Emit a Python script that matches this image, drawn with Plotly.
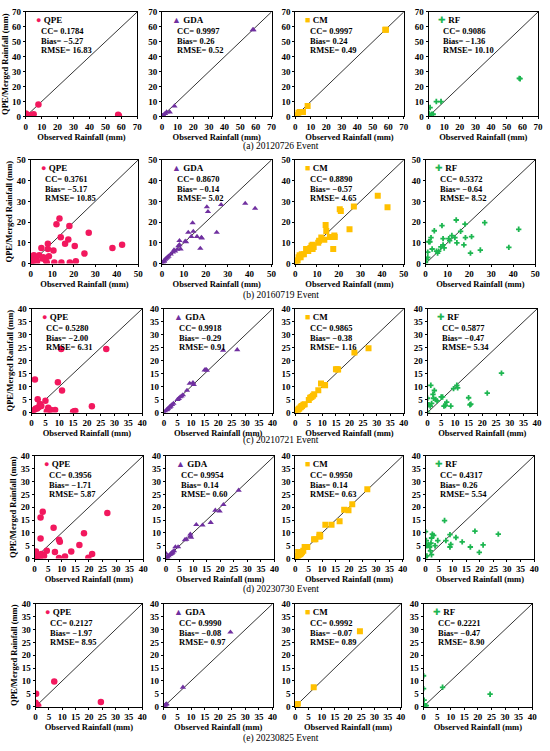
import plotly.graph_objects as go

W, H = 550, 751

# --- Data ---
PRODUCTS = ["QPE", "GDA", "CM", "RF"]
EVENTS = ["(a) 20120726 Event", "(b) 20160719 Event", "(c) 20210721 Event",
          "(d) 20230730 Event", "(e) 20230825 Event"]
AXIS_MAX = [70, 50, 40, 40, 40]
AXIS_STEP = [10, 10, 5, 5, 5]

# (a) 20120726
obs_a = [0.0, 0.3, 0.5, 1.0, 2.0, 3.0, 5.0, 8.0, 58.0, 58.5]
qpe_a = [2.0, 0.5, 1.5, 0.3, 0.8, 1.0, 1.5, 8.0, 1.2, 0.5]
gda_a = [0.0, 0.3, 0.5, 1.0, 2.0, 3.0, 3.0, 7.0, 58.0, 58.0]
cm_a = [0.0, 0.3, 0.5, 1.0, 2.5, 3.0, 3.0, 7.0, 58.0, 58.0]
rf_a = [0.0, 2.0, 0.5, 6.0, 1.5, 1.5, 10.0, 10.0, 25.5, 25.3]

# (b) 20160719
obs_b = [0, 0.5, 1, 1, 1.5, 2, 2.5, 3, 4, 5, 5.5, 6, 7, 7.5, 8, 8, 8.5,
         10.6, 11, 12, 13.4, 14, 14.3, 16, 17.5, 18, 18.2, 20.5, 21, 25, 27, 38, 42.5]
qpe_b = [0, 1, 3, 1, 4, 2, 2, 1, 4, 7.5, 2.4, 3, 1.6, 0.5, 9.5, 7, 3.5,
         6.3, 0.5, 18.9, 21.7, 12.7, 0.5, 9.5, 11.6, 18.1, 0.5, 8.4, 1.1, 4.8, 14.8, 7.5, 9]
gda_b = [0, 0.5, 1, 1.5, 2, 2.5, 3, 3.5, 4.5, 5.5, 6.5, 6, 6.8, 8.5, 11, 9, 7,
         10.7, 10.5, 15, 13, 19.6, 15.5, 13, 7.3, 12.5, 12.3, 27.3, 25, 15, 28.4, 29, 26.6]
cm_b = [0, 1, 1.5, 1.5, 3, 4, 3, 4.5, 4.5, 7, 6.5, 6, 7.5, 8.6, 9, 7, 8,
        10, 11, 12.5, 11.5, 18.6, 15.7, 12.8, 7, 13.5, 12.8, 26.2, 25.3, 16.5, 27.5, 32.7, 27.2]
rf_b = [0.5, 2, 3, 5.5, 10.5, 10.5, 12.5, 7, 15.8, 6, 5, 6, 8, 18.3, 12, 9, 7.5,
        12, 11, 13.5, 12.5, 21, 10, 15.5, 9, 19, 12.5, 5, 13, 6.5, 19.7, 7.8, 16.5]

# (c) 20210721
obs_c = [0, 0, 0.5, 1, 1.2, 1.5, 2, 2.2, 2.5, 3, 3.5, 5, 5.5, 6, 6.5, 7, 8.5,
         9.5, 10.7, 11, 15, 15.5, 15.8, 21.8, 27]
qpe_c = [0, 0.3, 0.5, 1, 12.7, 1.5, 1.5, 5.1, 2, 3.3, 2.5, 4.5, 0.5, 1.8, 1, 1, 1,
         11.7, 24.5, 8.5, 0.3, 0.5, 0.6, 2.4, 24.5]
gda_c = [0, 0, 0.5, 1, 1.2, 1.5, 2, 2.2, 2.5, 3, 3.5, 5, 5.4, 6, 6.3, 6.8, 8.5,
         11.2, 11.5, 10.8, 16.4, 16.6, 16.3, 24, 24.2]
cm_c = [0, 0.2, 0.5, 1, 1.3, 1.5, 2, 2.3, 2.5, 3, 3.2, 4.8, 5.7, 6, 6.5, 7, 8.6,
        11.2, 10.6, 10.5, 16.7, 16.7, 16.6, 23.2, 24.8]
rf_c = [0, 5.5, 3, 2.5, 10.5, 3.5, 7, 5.5, 8.5, 5, 4.5, 6, 6, 2.5, 2.7, 4, 2.5,
        9.2, 10.5, 9.5, 5.7, 3, 3.2, 7.5, 15.2]

# (d) 20230730
obs_d = [0, 0, 0.3, 0.5, 0.5, 1, 1.5, 1.8, 2, 2.2, 2.2, 2.5, 3, 3.5, 4.5, 7, 7.5,
         9, 9, 9.3, 11.2, 13.5, 16.5, 18.2, 19.8, 21.2, 26.8]
qpe_d = [0, 0.5, 0.5, 2.7, 0, 0.5, 1.2, 0.8, 0.3, 16, 7.8, 1.8, 18.2, 1.0, 3, 12, 2.5,
         7.3, 0.2, 6.5, 0.8, 2.7, 5.3, 9.9, 0.3, 1.8, 17.7]
gda_d = [0, 2, 0.3, 0.5, 0.5, 1, 1.5, 1.8, 2, 2.2, 2.2, 2.5, 3, 4.5, 4.5, 7.3, 7.5,
         9.5, 8.8, 8.2, 13.2, 13, 14, 18.8, 18.5, 21, 26.6]
cm_d = [0, 2.5, 0.3, 1, 0.5, 1, 1.5, 1.8, 2, 2.2, 2.5, 2.5, 3, 4.5, 4.5, 7.5, 7.5,
        9.3, 8.5, 8.8, 13.2, 13.2, 14.5, 19, 18.8, 21.2, 27]
rf_d = [0.5, 10.5, 7, 5, 1, 5.5, 4.5, 3, 6, 8, 1.5, 9.5, 9, 5, 7, 14.8, 7,
        9.3, 4.5, 5.5, 8.2, 6.5, 4.5, 10.7, 2.4, 5.3, 9.5]

# (e) 20230825
obs_e = [0, 0, 0, 0.2, 0.3, 0.5, 0.7, 1, 7, 24.5]
qpe_e = [0, 1.5, 1, 5, 0.8, 0.5, 0, 0.2, 9.8, 1.8]
gda_e = [0, 0, 0, 0.2, 0.3, 0.5, 0.8, 1, 7.5, 29]
cm_e = [0, 0, 0, 0.3, 0.8, 0.5, 0.5, 1, 7.5, 29.3]
rf_e = [0, 12, 7, 2.5, 0, 0.3, 0.3, 0.3, 7.5, 4.8]

OBS = [obs_a, obs_b, obs_c, obs_d, obs_e]
EST = [[qpe_a, gda_a, cm_a, rf_a],
       [qpe_b, gda_b, cm_b, rf_b],
       [qpe_c, gda_c, cm_c, rf_c],
       [qpe_d, gda_d, cm_d, rf_d],
       [qpe_e, gda_e, cm_e, rf_e]]

# CC, Bias, RMSE per panel
cc_vals = [["0.1784", "0.9997", "0.9997", "0.9086"],
           ["0.3761", "0.8670", "0.8890", "0.5372"],
           ["0.5280", "0.9918", "0.9865", "0.5877"],
           ["0.3956", "0.9954", "0.9950", "0.4317"],
           ["0.2127", "0.9990", "0.9992", "0.2221"]]
bias_vals = [["−5.27", "0.26", "0.24", "−1.36"],
             ["−5.17", "−0.14", "−0.57", "−0.64"],
             ["−2.00", "−0.29", "−0.38", "−0.47"],
             ["−1.71", "0.14", "0.14", "0.26"],
             ["−1.97", "−0.08", "−0.07", "−0.47"]]
rmse_vals = [["16.83", "0.52", "0.49", "10.10"],
             ["10.85", "5.02", "4.65", "8.52"],
             ["6.31", "0.91", "1.16", "5.34"],
             ["5.87", "0.60", "0.63", "5.54"],
             ["8.95", "0.97", "0.89", "8.90"]]

# --- Styles ---
FONT = "Liberation Serif, Times New Roman, serif"
COLORS = {"QPE": "#F2185E", "GDA": "#7030A0", "CM": "#FFC000", "RF": "#1DB650"}
SYMBOLS = {"QPE": "circle", "GDA": "triangle-up", "CM": "square", "RF": "cross"}
SIZES = {"QPE": 6.5, "GDA": 5.5, "CM": 6, "RF": 4.5}
KEY_GLYPH = {"QPE": "●", "GDA": "▲", "CM": "■", "RF": "✚"}

# panel boxes in pixels (left, right) per row, and (top, bottom) per row
COL_PX = [[(24, 137), (162, 273), (297, 407), (432, 543)],
          [(29, 138), (162, 273), (297, 407), (429, 540)],
          [(30, 142), (164, 274), (297, 407), (431, 542)],
          [(33, 143), (166, 276), (297, 406), (429, 539)],
          [(34, 142), (164, 274), (297, 404), (427, 537)]]
ROW_PX = [(7, 113), (157, 262), (308, 413), (457, 561), (607, 711)]
CAPTION_Y = [143, 294, 441, 592, 743]

fig = go.Figure()
layout = {}
annotations = []

n = 0
for r in range(5):
    top, bot = ROW_PX[r]
    amax = AXIS_MAX[r]
    for c, prod in enumerate(PRODUCTS):
        n += 1
        left, right = COL_PX[r][c]
        xa = "x" if n == 1 else f"x{n}"
        ya = "y" if n == 1 else f"y{n}"
        xkey = "xaxis" if n == 1 else f"xaxis{n}"
        ykey = "yaxis" if n == 1 else f"yaxis{n}"

        axis_common = dict(
            range=[0, amax], dtick=AXIS_STEP[r], tick0=0,
            showline=True, linecolor="black", linewidth=1, mirror=True,
            showgrid=False, zeroline=False,
            ticks="outside", ticklen=2, tickcolor="black",
            tickfont=dict(family=FONT, size=9, color="black", weight="bold"),
            fixedrange=True,
        )
        layout[xkey] = dict(
            axis_common, domain=[left / W, right / W], anchor=ya,
            title=dict(text="<b>Observed Rainfall (mm)</b>", standoff=2,
                       font=dict(family=FONT, size=8.5, color="black")),
        )
        ytitle = "<b>QPE/Merged Rainfall (mm)</b>" if c == 0 else ""
        layout[ykey] = dict(
            axis_common, domain=[1 - bot / H, 1 - top / H], anchor=xa,
            title=dict(text=ytitle, standoff=2,
                       font=dict(family=FONT, size=8.5, color="black")),
        )

        # 1:1 line
        fig.add_trace(go.Scatter(
            x=[0, amax], y=[0, amax], mode="lines",
            line=dict(color="black", width=0.8),
            xaxis=xa, yaxis=ya, showlegend=False, hoverinfo="skip",
        ))
        # scatter points
        fig.add_trace(go.Scatter(
            x=OBS[r], y=EST[r][c], mode="markers", name=prod,
            marker=dict(symbol=SYMBOLS[prod], size=SIZES[prod],
                        color=COLORS[prod], line=dict(width=0)),
            xaxis=xa, yaxis=ya, showlegend=False,
        ))

        # key + stats
        w = right - left
        h = bot - top
        annotations.append(dict(
            xref=f"{xa} domain", yref=f"{ya} domain",
            x=8 / w, y=1 - 8 / h, xanchor="left", yanchor="middle",
            showarrow=False,
            text=f"<span style='color:{COLORS[prod]}'>{KEY_GLYPH[prod]}</span> <b>{prod}</b>",
            font=dict(family=FONT, size=9, color="black"),
        ))
        lines = [f"CC= {cc_vals[r][c]}", f"Bias= {bias_vals[r][c]}",
                 f"RMSE= {rmse_vals[r][c]}"]
        for k, t in enumerate(lines):
            annotations.append(dict(
                xref=f"{xa} domain", yref=f"{ya} domain",
                x=13 / w, y=1 - (19.5 + 9.5 * k) / h,
                xanchor="left", yanchor="middle", showarrow=False,
                text=f"<b>{t}</b>",
                font=dict(family=FONT, size=8.5, color="black"),
            ))

    annotations.append(dict(
        xref="paper", yref="paper", x=283 / W, y=1 - CAPTION_Y[r] / H,
        xanchor="center", yanchor="middle", showarrow=False,
        text=EVENTS[r], font=dict(family=FONT, size=9.5, color="black"),
    ))

fig.update_layout(
    width=W, height=H,
    margin=dict(l=0, r=0, t=0, b=0),
    paper_bgcolor="white", plot_bgcolor="white",
    font=dict(family=FONT, color="black"),
    showlegend=False,
    annotations=annotations,
    **layout,
)

# the page's default 8px body margin would push the figure off-canvas
fig.write_html("out.html", config={"displayModeBar": False, "staticPlot": True},
               post_script="document.body.style.margin='0';")
